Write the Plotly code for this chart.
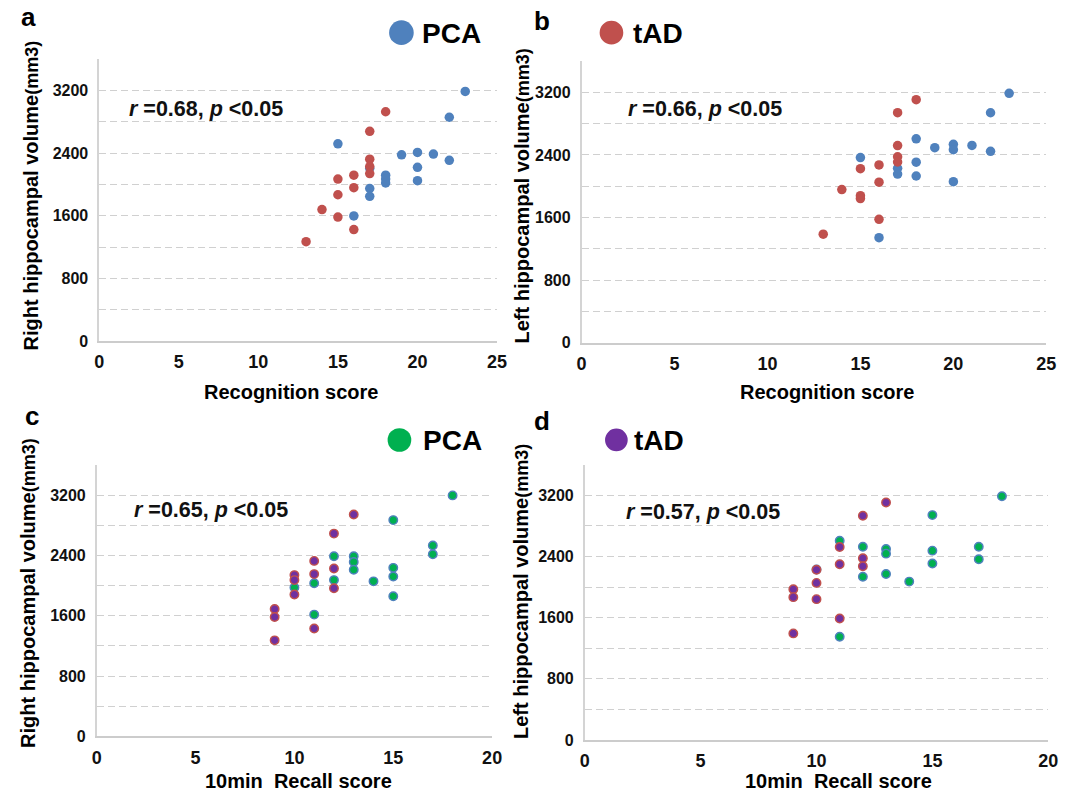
import plotly.graph_objects as go

W, H = 1079, 800

# ---------------- data ----------------
# Panel a: Recognition score vs Right hippocampal volume
pca_recog_a = [15, 16, 17, 17, 17, 18, 18, 18, 19, 20, 20, 20, 21, 22, 22, 23]
pca_right_a = [2520, 1600, 2210, 1950, 1850, 2120, 2070, 2020, 2380, 2410, 2220, 2050, 2390, 2860, 2310, 3190]
tad_recog_a = [13, 14, 15, 15, 15, 16, 16, 16, 17, 17, 17, 17, 18]
tad_right_a = [1270, 1680, 2070, 1870, 1585, 2120, 1960, 1425, 2680, 2325, 2230, 2140, 2930]

# Panel b: Recognition score vs Left hippocampal volume
pca_recog_b = [15, 16, 17, 17, 18, 18, 18, 19, 20, 20, 20, 21, 22, 22, 23]
pca_left_b = [2366, 1343, 2230, 2155, 2606, 2307, 2131, 2493, 2535, 2467, 2059, 2522, 2939, 2446, 3187]
tad_recog_b = [13, 14, 15, 15, 15, 16, 16, 16, 17, 17, 17, 17, 18]
tad_left_b = [1387, 1958, 2225, 1880, 1842, 2272, 2052, 1577, 2940, 2520, 2377, 2310, 3106]

# Panel c: 10min Recall score vs Right hippocampal volume
pca_recall_c = [10, 11, 11, 12, 12, 13, 13, 13, 14, 15, 15, 15, 15, 17, 17, 18]
pca_right_c = [1973, 2030, 1615, 2388, 2073, 2388, 2313, 2209, 2056, 2868, 2235, 2121, 1859, 2532, 2414, 3196]
tad_recall_c = [9, 9, 9, 10, 10, 10, 11, 11, 11, 12, 12, 12, 13]
tad_right_c = [1689, 1584, 1274, 2139, 2073, 1881, 2327, 2152, 1431, 2689, 2226, 1964, 2942]

# Panel d: 10min Recall score vs Left hippocampal volume
pca_recall_d = [10, 11, 11, 12, 12, 13, 13, 13, 14, 15, 15, 15, 17, 17, 18]
pca_left_d = [2230, 2605, 1351, 2528, 2135, 2497, 2437, 2170, 2071, 2941, 2476, 2308, 2528, 2364, 3187]
tad_recall_d = [9, 9, 9, 10, 10, 10, 11, 11, 11, 12, 12, 12, 13]
tad_left_d = [1972, 1868, 1394, 2226, 2054, 1842, 2523, 2299, 1588, 2933, 2377, 2273, 3105]

stats_text = ["r =0.68, p <0.05", "r =0.66, p <0.05", "r =0.65, p <0.05", "r =0.57, p <0.05"]
panel_letters = ["a", "b", "c", "d"]
y_tick_vals = [0, 400, 800, 1200, 1600, 2000, 2400, 2800, 3200, 3600]
y_tick_text = ["0", "", "800", "", "1600", "", "2400", "", "3200", ""]
x_ticks_recog = [0, 5, 10, 15, 20, 25]
x_ticks_recall = [0, 5, 10, 15, 20]

# ---------------- style ----------------
BLUE, RED, GREEN, PURPLE = "#4F81BD", "#C0504D", "#00B050", "#7030A0"
FONT = "Liberation Sans, Arial, sans-serif"
GRID = "#D0D0D0"


def px(x):
    return x / W


def py(y):
    return 1 - y / H


# plot-area pixel boxes: (left, right, top, bottom)
boxes = [(95.5, 499, 60, 345), (584.7, 1056, 61.7, 346.7),
         (93, 494, 470.2, 744.8), (587.9, 1058, 470, 748.4)]

fig = go.Figure()

panels = [
    (pca_recog_a, pca_right_a, tad_recog_a, tad_right_a, False),
    (pca_recog_b, pca_left_b, tad_recog_b, tad_left_b, False),
    (pca_recall_c, pca_right_c, tad_recall_c, tad_right_c, True),
    (pca_recall_d, pca_left_d, tad_recall_d, tad_left_d, True),
]

for i, (px_, py_, tx_, ty_, edged) in enumerate(panels):
    xa = "x" if i == 0 else f"x{i+1}"
    ya = "y" if i == 0 else f"y{i+1}"
    if edged:
        m1 = dict(color=GREEN, size=8.5, line=dict(color=BLUE, width=1.4))
        m2 = dict(color=PURPLE, size=8.5, line=dict(color=RED, width=1.4))
    else:
        m1 = dict(color=BLUE, size=9.5, line=dict(width=0))
        m2 = dict(color=RED, size=9.5, line=dict(width=0))
    fig.add_trace(go.Scatter(x=px_, y=py_, mode="markers", marker=m1,
                             xaxis=xa, yaxis=ya, showlegend=False, name="PCA"))
    fig.add_trace(go.Scatter(x=tx_, y=ty_, mode="markers", marker=m2,
                             xaxis=xa, yaxis=ya, showlegend=False, name="tAD"))

layout = dict(
    width=W, height=H, autosize=False,
    margin=dict(l=0, r=0, t=0, b=0, pad=0),
    paper_bgcolor="white", plot_bgcolor="white",
    font=dict(family=FONT, color="#000000"),
)

for i, (l, r, t, b) in enumerate(boxes):
    sfx = "" if i == 0 else str(i + 1)
    xr = [0, 25] if i < 2 else [0, 20]
    xt = x_ticks_recog if i < 2 else x_ticks_recall
    layout["xaxis" + sfx] = dict(
        domain=[px(l), px(r)], range=xr, anchor="y" + sfx,
        tickvals=xt, ticktext=[str(v) for v in xt],
        showgrid=False, zeroline=False, showline=True,
        linecolor="#CCCCCC", linewidth=1.5, ticks="",
        tickfont=dict(family=FONT, size=18, color="#111111", weight=700),
        ticklabelstandoff=4, fixedrange=True,
    )
    layout["yaxis" + sfx] = dict(
        domain=[py(b), py(t)], range=[0, 3600], anchor="x" + sfx,
        tickvals=y_tick_vals, ticktext=y_tick_text,
        showgrid=True, gridcolor=GRID, gridwidth=1.4, griddash="7px,4px",
        zeroline=False, showline=True, linecolor="#D4D4D4", linewidth=1.5,
        ticks="", tickfont=dict(family=FONT, size=16, color="#111111", weight=700),
        ticklabelstandoff=6, fixedrange=True,
    )

fig.update_layout(**layout)

annotations = []
shapes = []

# panel letters
letter_pos = [(24, 17), (545, 21), (27, 421), (545, 426)]
for (x, y), s in zip(letter_pos, panel_letters):
    annotations.append(dict(text=f"<b>{s}</b>", x=px(x), y=py(y), xref="paper", yref="paper",
                            xanchor="center", yanchor="middle", showarrow=False,
                            font=dict(family=FONT, size=26, color="#000000")))

# legends (big marker + label)
legend_items = [((402, 33), 25, BLUE, "PCA", 421), ((615, 33), 24, RED, "tAD", 635),
                ((400, 445), 24, GREEN, "PCA", 422), ((620, 445), 23, PURPLE, "tAD", 636)]
for (cx, cy), d, col, lab, tx in legend_items:
    shapes.append(dict(type="circle", xref="paper", yref="paper",
                       x0=px(cx - d / 2), x1=px(cx + d / 2), y0=py(cy + d / 2), y1=py(cy - d / 2),
                       fillcolor=col, line=dict(width=0)))
    annotations.append(dict(text=f"<b>{lab}</b>", x=px(tx), y=py(cy + 1), xref="paper", yref="paper",
                            xanchor="left", yanchor="middle", showarrow=False,
                            font=dict(family=FONT, size=28, color="#000000")))

# statistics text
stat_pos = [(124, 110), (630, 110), (129, 516), (628, 518)]
for (x, y), s in zip(stat_pos, stats_text):
    r_part, p_part = s.split(", ")
    html = "<b><i>r</i>" + r_part[1:] + ", <i>p</i>" + p_part[1:].replace("<", "&lt;") + "</b>"
    annotations.append(dict(text=html, x=px(x), y=py(y), xref="paper", yref="paper",
                            xanchor="left", yanchor="middle", showarrow=False,
                            font=dict(family=FONT, size=21.5, color="#111111")))

# x axis titles
x_titles = [("Recognition score", 290, 396), ("Recognition score", 834, 396),
            ("10min\u00a0 Recall score", 298, 790), ("10min\u00a0 Recall score", 845, 790)]
for s, x, y in x_titles:
    annotations.append(dict(text=f"<b>{s}</b>", x=px(x), y=py(y), xref="paper", yref="paper",
                            xanchor="center", yanchor="middle", showarrow=False,
                            font=dict(family=FONT, size=20, color="#000000")))

# y axis titles
mm = "<span style='font-family:Liberation Sans Narrow, Arial Narrow, Liberation Sans;font-size:18px'><b>(mm3)</b></span>"
y_titles = [("Right hippocampal volume", 26, 198), ("Left hippocampal volume", 524, 198),
            ("Right hippocampal volume", 24, 600), ("Left hippocampal volume", 524, 598)]
for s, x, y in y_titles:
    annotations.append(dict(text=f"<b>{s}</b>" + mm, x=px(x), y=py(y), xref="paper", yref="paper",
                            xanchor="center", yanchor="middle", showarrow=False, textangle=-90,
                            font=dict(family=FONT, size=20, color="#000000")))

fig.update_layout(annotations=annotations, shapes=shapes)

fig.write_html("out.html")
